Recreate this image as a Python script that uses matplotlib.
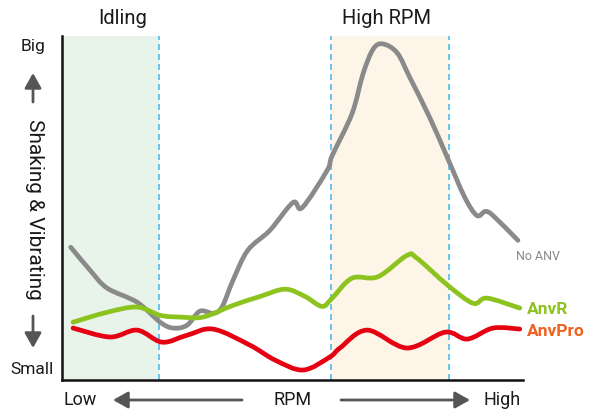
"""Vibration vs RPM comparison chart: No ANV, AnvR and AnvPro."""

import matplotlib
matplotlib.use("Agg")
import matplotlib.pyplot as plt
from matplotlib.path import Path
from matplotlib.patches import PathPatch, FancyArrowPatch

# RPM position (0 = low, 100 = high) and vibration level (0 = small, 100 = big)
no_anv_x = [1.9, 6.1, 9.8, 16.3, 21.3, 24.1, 27.1, 29.9, 32.8, 34.7, 37.1, 40.3,
            45.1, 50.1, 52.1, 57.5, 58.6, 62.9, 65.3, 67.5, 69.6, 72.7, 75.5,
            79.8, 83.7, 87.4, 90.0, 91.8, 93.5, 98.9]
no_anv_y = [38.6, 31.9, 26.7, 22.6, 16.8, 15.1, 15.9, 20.0, 19.4, 21.2, 29.0, 37.7,
            43.5, 51.6, 50.1, 60.9, 65.2, 77.4, 89.0, 96.2, 97.7, 95.1, 87.8,
            76.2, 64.3, 53.0, 47.8, 49.0, 47.8, 40.6]

anvr_x = [2.4, 9.8, 16.3, 21.3, 25.6, 30.6, 37.1, 43.0, 48.4, 52.7, 56.4, 58.6,
          62.9, 68.5, 74.8, 77.0, 83.7, 89.2, 92.2, 99.3]
anvr_y = [16.8, 19.7, 21.2, 18.8, 18.3, 18.3, 21.7, 24.3, 26.4, 24.3, 21.4, 23.8,
          29.6, 30.0, 36.2, 35.4, 27.5, 22.3, 23.8, 20.9]

anvpro_x = [2.4, 10.4, 16.3, 21.7, 27.1, 32.8, 40.8, 46.2, 52.3, 58.1, 60.3, 66.2,
            74.8, 83.1, 87.9, 93.5, 99.3]
anvpro_y = [15.1, 12.5, 14.5, 11.0, 13.0, 14.8, 10.1, 5.8, 2.9, 6.7, 9.3, 14.5,
            9.3, 13.9, 11.9, 15.1, 14.8]

idling_span = (0, 21.0)
high_rpm_span = (58.4, 84.0)

W, H = 595, 409


def fx(px):
    return px / W


def fy(py):
    return 1 - py / H


def smooth_path(xs, ys, tension=6.0):
    """Catmull-Rom curve through the points, as cubic Bezier segments."""
    pts = list(zip(xs, ys))
    verts = [pts[0]]
    codes = [Path.MOVETO]
    for i in range(len(pts) - 1):
        p0 = pts[i - 1] if i > 0 else pts[i]
        p1 = pts[i]
        p2 = pts[i + 1]
        p3 = pts[i + 2] if i + 2 < len(pts) else pts[i + 1]
        c1 = (p1[0] + (p2[0] - p0[0]) / tension, p1[1] + (p2[1] - p0[1]) / tension)
        c2 = (p2[0] - (p3[0] - p1[0]) / tension, p2[1] - (p3[1] - p1[1]) / tension)
        verts += [c1, c2, p2]
        codes += [Path.CURVE4] * 3
    return Path(verts, codes)


fig = plt.figure(figsize=(W / 100, H / 100), dpi=100)
plt.rcParams["font.family"] = ["Roboto", "DejaVu Sans"]
ax = fig.add_axes([62 / W, 1 - 380 / H, 461 / W, 344 / H])
ax.set_xlim(0, 100)
ax.set_ylim(0, 100)

ax.axvspan(*idling_span, color="#e8f4ea", lw=0, zorder=0)
ax.axvspan(*high_rpm_span, color="#fdf5e8", lw=0, zorder=0)
for xv in (idling_span[1], high_rpm_span[0], high_rpm_span[1]):
    ax.axvline(xv, color="#4dbcf0", lw=1.2, ls=(0, (3.6, 2.4)), zorder=1)

for xs, ys, col in ((no_anv_x, no_anv_y, "#8a8a8a"),
                    (anvr_x, anvr_y, "#8cc31f"),
                    (anvpro_x, anvpro_y, "#e50012")):
    ax.add_patch(PathPatch(smooth_path(xs, ys), facecolor="none", edgecolor=col,
                           lw=3.4, capstyle="round", joinstyle="round", zorder=3))

for side in ("top", "right"):
    ax.spines[side].set_visible(False)
for side in ("left", "bottom"):
    ax.spines[side].set_linewidth(1.8)
    ax.spines[side].set_color("#111111")
ax.set_xticks([])
ax.set_yticks([])

# series labels
fig.text(fx(516), fy(256), "No ANV", color="#8a8a8a", fontsize=9,
         va="center", ha="left")
fig.text(fx(527), fy(310), "AnvR", color="#8cc31f", fontsize=12.5,
         fontweight="bold", va="center", ha="left")
fig.text(fx(527), fy(332), "AnvPro", color="#f0601e", fontsize=12.5,
         fontweight="bold", va="center", ha="left")

# zone titles
fig.text(fx(123), fy(19), "Idling", fontsize=14.5, ha="center", va="center",
         color="#1a1a1a")
fig.text(fx(387), fy(19), "High RPM", fontsize=14.5, ha="center", va="center",
         color="#1a1a1a")

# y axis annotation
fig.text(fx(33), fy(47), "Big", fontsize=12.5, ha="center", va="center",
         color="#1a1a1a")
fig.text(fx(32), fy(370), "Small", fontsize=12.5, ha="center", va="center",
         color="#1a1a1a")
fig.text(fx(34), fy(209), "Shaking & Vibrating", fontsize=15, rotation=270,
         ha="center", va="center", color="#1a1a1a")

# x axis annotation
fig.text(fx(80), fy(400), "Low", fontsize=13, ha="center", va="center",
         color="#1a1a1a")
fig.text(fx(293), fy(400), "RPM", fontsize=13, ha="center", va="center",
         color="#1a1a1a")
fig.text(fx(502), fy(400), "High", fontsize=13, ha="center", va="center",
         color="#1a1a1a")

arrow_kw = dict(arrowstyle="-|>,head_length=0.75,head_width=0.42",
                color="#555555", lw=2.0, shrinkA=0, shrinkB=0)
arrows = [((242, 400), (113, 400)), ((341, 400), (470, 400)),
          ((33, 102), (33, 73)), ((33, 316), (33, 348))]
for (x0, y0), (x1, y1) in arrows:
    fig.add_artist(FancyArrowPatch(
        (fx(x0), fy(y0)), (fx(x1), fy(y1)), transform=fig.transFigure,
        mutation_scale=12, **arrow_kw))

fig.savefig("out.png", dpi=100)
